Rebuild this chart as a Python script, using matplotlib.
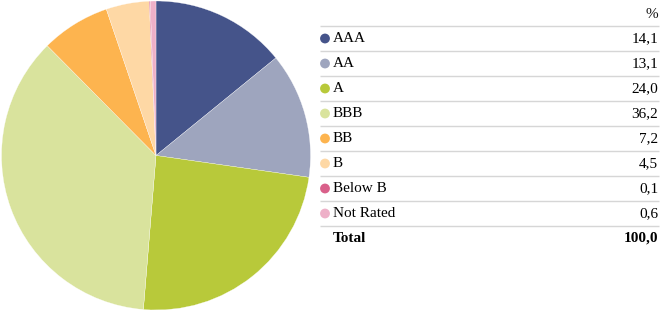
import matplotlib
matplotlib.use("Agg")
import matplotlib.pyplot as plt

categories = ["AAA", "AA", "A", "BBB", "BB", "B", "Below B", "Not Rated"]
values = [14.1, 13.1, 24.0, 36.2, 7.2, 4.5, 0.1, 0.6]
total_label = "Total"
total_value = 100.0
header = "%"
colors = ["#45548A", "#9EA5BE", "#B8C93A", "#D9E39D", "#FDB44F", "#FED8A5", "#D9608A", "#EEB0C8"]

W, H = 667, 311
fig = plt.figure(figsize=(W / 100, H / 100), dpi=100)
fig.patch.set_facecolor("white")

# Pie
cx, cy, r = 156, 155.5, 154.5
ax = fig.add_axes([(cx - r) / W, (H - cy - r) / H, 2 * r / W, 2 * r / H])
ax.pie(values, colors=colors, startangle=90, counterclock=False,
       wedgeprops=dict(linewidth=0.2, edgecolor="white"))
ax.set_aspect("equal")
ax.set_xlim(-1, 1)
ax.set_ylim(-1, 1)
ax.axis("off")

# Table
tx = fig.add_axes([0, 0, 1, 1])
tx.set_xlim(0, W)
tx.set_ylim(H, 0)
tx.axis("off")

font = dict(family=["Liberation Serif", "DejaVu Serif"], fontsize=11)
x_left, x_right = 320, 659
x_dot, x_label = 325, 333
y0 = 26
pitch = 25

tx.text(x_right - 1, 14, header, ha="right", va="center", color="#111111", **font)
for i in range(len(categories) + 1):
    y = y0 + i * pitch
    tx.plot([x_left, x_right], [y, y], color="#D6D6D6", lw=1.0, solid_capstyle="butt")

for i, (c, v, col) in enumerate(zip(categories, values, colors)):
    yc = y0 + i * pitch + 12.5
    tx.scatter([x_dot], [yc], s=50, color=col, edgecolors="none")
    tx.text(x_label, yc, c, ha="left", va="center", color="#000000", **font)
    tx.text(x_right - 1, yc, f"{v:.1f}".replace(".", ","), ha="right", va="center",
            color="#000000", **font)

yt = y0 + len(categories) * pitch + 12.5
tx.text(x_label, yt, total_label, ha="left", va="center", color="#000000",
        fontweight="bold", **font)
tx.text(x_right - 1, yt, f"{total_value:.1f}".replace(".", ","), ha="right", va="center",
        color="#000000", fontweight="bold", **font)

fig.savefig("out.png", dpi=100, facecolor="white")
